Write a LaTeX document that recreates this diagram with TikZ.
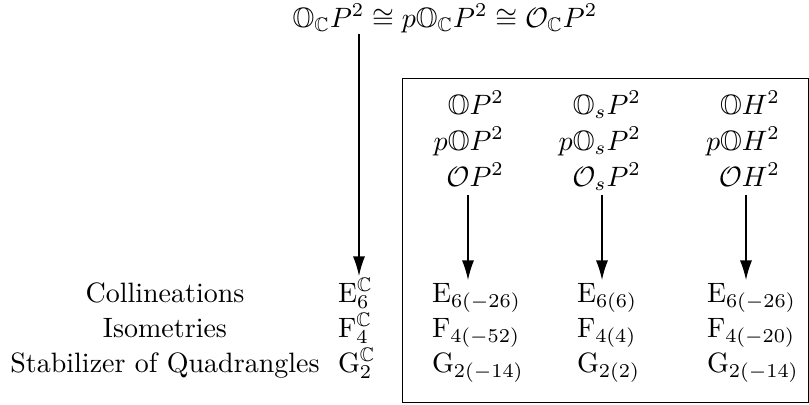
\documentclass[tikz,border=0pt]{standalone}
\usepackage{amsmath,amssymb}
\usetikzlibrary{arrows.meta}
\tikzset{
  lbl/.style={inner sep=0pt, outer sep=0pt},
  arr/.style={line width=0.45pt, -{Latex[length=7pt,width=4.3pt]}},
  frame/.style={line width=0.5pt}
}
\begin{document}
\begin{tikzpicture}[x=0.357pt,y=-0.357pt]
\useasboundingbox (0,0) rectangle (809,404);
% top formula
\node[lbl, anchor=base] (top) at (445,27) {$\mathbb{O}_{\mathbb{C}}P^2 \cong p\mathbb{O}_{\mathbb{C}}P^2 \cong \mathcal{O}_{\mathbb{C}}P^2$};
% frame
\node[frame, draw, minimum width=406*0.357pt, minimum height=324*0.357pt, anchor=north west, inner sep=0pt] (box) at (401.5,78) {};
% left labels
\node[lbl, anchor=base] (col) at (165,302) {Collineations};
\node[lbl, anchor=base] (iso) at (165,337) {Isometries};
\node[lbl, anchor=base] (stab) at (165,372) {Stabilizer of Quadrangles};
\node[lbl, anchor=base west] (e6c) at (338,302) {$\mathrm{E}_6^{\mathbb{C}}$};
\node[lbl, anchor=base west] (f4c) at (338,337) {$\mathrm{F}_4^{\mathbb{C}}$};
\node[lbl, anchor=base west] (g2c) at (338,372) {$\mathrm{G}_2^{\mathbb{C}}$};
% column 1
\node[lbl, anchor=base east] (a1) at (504,114) {$\mathbb{O}P^2$};
\node[lbl, anchor=base east] (a2) at (504,150) {$p\mathbb{O}P^2$};
\node[lbl, anchor=base east] (a3) at (504,186) {$\mathcal{O}P^2$};
\node[lbl, anchor=base west] (a4) at (432,302) {$\mathrm{E}_{6(-26)}$};
\node[lbl, anchor=base west] (a5) at (432,337) {$\mathrm{F}_{4(-52)}$};
\node[lbl, anchor=base west] (a6) at (432,372) {$\mathrm{G}_{2(-14)}$};
% column 2
\node[lbl, anchor=base east] (b1) at (641,114) {$\mathbb{O}_sP^2$};
\node[lbl, anchor=base east] (b2) at (641,150) {$p\mathbb{O}_sP^2$};
\node[lbl, anchor=base east] (b3) at (641,186) {$\mathcal{O}_sP^2$};
\node[lbl, anchor=base west] (b4) at (577,302) {$\mathrm{E}_{6(6)}$};
\node[lbl, anchor=base west] (b5) at (577,337) {$\mathrm{F}_{4(4)}$};
\node[lbl, anchor=base west] (b6) at (577,372) {$\mathrm{G}_{2(2)}$};
% column 3
\node[lbl, anchor=base east] (c1) at (780,114) {$\mathbb{O}H^2$};
\node[lbl, anchor=base east] (c2) at (780,150) {$p\mathbb{O}H^2$};
\node[lbl, anchor=base east] (c3) at (780,186) {$\mathcal{O}H^2$};
\node[lbl, anchor=base west] (c4) at (707,302) {$\mathrm{E}_{6(-26)}$};
\node[lbl, anchor=base west] (c5) at (707,337) {$\mathrm{F}_{4(-20)}$};
\node[lbl, anchor=base west] (c6) at (707,372) {$\mathrm{G}_{2(-14)}$};
% arrow endpoints
\coordinate (s0) at (359,34);  \coordinate (t0) at (359,276);
\coordinate (s1) at (468,195); \coordinate (t1) at (468,280);
\coordinate (s2) at (602,195); \coordinate (t2) at (602,280);
\coordinate (s3) at (746,195); \coordinate (t3) at (746,280);
\draw[arr] (s0) -- (t0);
\draw[arr] (s1) -- (t1);
\draw[arr] (s2) -- (t2);
\draw[arr] (s3) -- (t3);
\end{tikzpicture}
\end{document}
